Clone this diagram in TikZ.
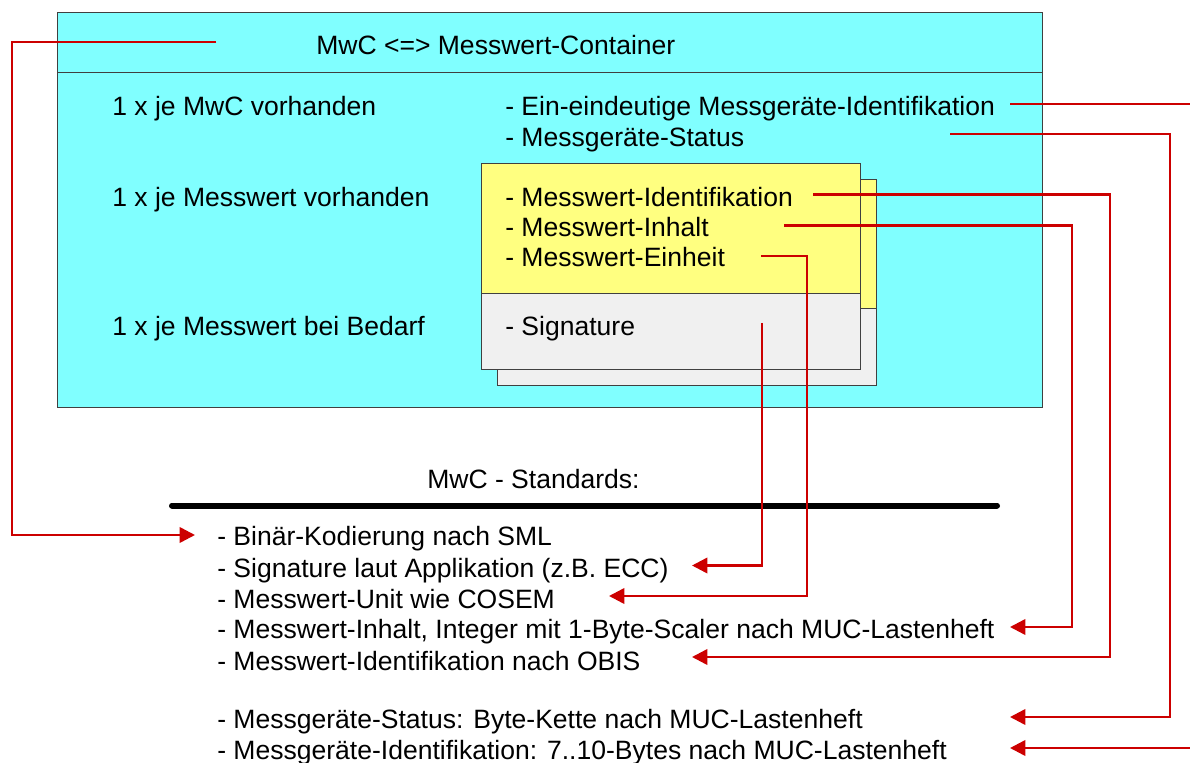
\documentclass[tikz,border=0pt]{standalone}
\usepackage{fontspec}
\setmainfont{Liberation Sans}
\usetikzlibrary{arrows.meta}

\definecolor{mwccyan}{RGB}{128,255,255}
\definecolor{mwcyellow}{RGB}{255,255,128}
\definecolor{mwcgray}{RGB}{240,240,240}
\definecolor{mwcred}{RGB}{204,0,0}

\begin{document}
\begin{tikzpicture}[x=0.75pt, y=-0.75pt,
    txt/.style={anchor=base west, inner sep=0pt, font=\fontsize{19.9}{24}\selectfont},
    frame/.style={draw=black!75, line width=0.75pt},
    conn/.style={draw=mwcred, line width=1.9pt},
    connarrow/.style={conn, -{Triangle[length=11.5pt, width=11.5pt]}}]
            \clip (0,0) rectangle (1190,763);

            \filldraw[frame, fill=mwccyan] (57,13) rectangle (1042,407);
            \draw[frame] (57,73) -- (1042,73);

            \filldraw[frame, fill=mwcyellow] (497,180) rectangle (876,309);
            \filldraw[frame, fill=mwcgray] (497,309) rectangle (876,385);
            \filldraw[frame, fill=mwcyellow] (481,164) rectangle (860,294);
            \filldraw[frame, fill=mwcgray] (481,294) rectangle (860,369);

            \node[txt] (title) at (316,55) {MwC <=> Messwert-Container};
            \node[txt] (rowA) at (112,116) {1 x je MwC vorhanden};
            \node[txt] (rowB) at (112,207) {1 x je Messwert vorhanden};
            \node[txt] (rowC) at (112,335) {1 x je Messwert bei Bedarf};
            \node[txt] (devid) at (505,116) {- Ein-eindeutige Messgeräte-Identifikation};
            \node[txt] (devstat) at (505,147) {- Messgeräte-Status};
            \node[txt] (mwid) at (505,207) {- Messwert-Identifikation};
            \node[txt] (mwinh) at (505,237) {- Messwert-Inhalt};
            \node[txt] (mwein) at (505,267) {- Messwert-Einheit};
            \node[txt] (sig) at (505,335) {- Signature};

            \node[txt] (std) at (427,488) {MwC - Standards:};
            \draw[line width=4.5pt, line cap=round] (172,505.5) -- (997,505.5);

            \node[txt] (sml) at (217,545) {- Binär-Kodierung nach SML};
            \node[txt] (ecc) at (217,577) {- Signature laut Applikation (z.B. ECC)};
            \node[txt] (cosem) at (217,608) {- Messwert-Unit wie COSEM};
            \node[txt] (integer) at (217,638) {- Messwert-Inhalt, Integer mit 1-Byte-Scaler nach MUC-Lastenheft};
            \node[txt] (obis) at (217,670) {- Messwert-Identifikation nach OBIS};
            \node[txt] (status) at (217,728) {- Messgeräte-Status: Byte-Kette nach MUC-Lastenheft};
            \node[txt] (ident) at (217,759) {- Messgeräte-Identifikation: 7..10-Bytes nach MUC-Lastenheft};

            \coordinate (T1) at (216,42);
            \coordinate (T2) at (195,535);
            \coordinate (E1) at (1010,104);
            \coordinate (E2) at (1010,748);
            \coordinate (S1) at (950,134);
            \coordinate (S2) at (1010,717);
            \coordinate (I1) at (813,194.5);
            \coordinate (I2) at (692,657);
            \coordinate (N1) at (784,225.5);
            \coordinate (N2) at (1010,627);
            \coordinate (H1) at (761,256);
            \coordinate (H2) at (609,596);
            \coordinate (G1) at (762,323);
            \coordinate (G2) at (692,565.5);

            \draw[connarrow] (T1) -- (12,42) |- (T2);
            \draw[connarrow] (E1) -- (1200,104) |- (E2);
            \draw[connarrow] (S1) -| (1170,717) -- (S2);
            \draw[connarrow] (I1) -| (1110,657) -- (I2);
            \draw[connarrow] (N1) -| (1072,627) -- (N2);
            \draw[connarrow] (H1) -| (807,596) -- (H2);
            \draw[connarrow] (G1) |- (G2);
        \end{tikzpicture}
\end{document}
